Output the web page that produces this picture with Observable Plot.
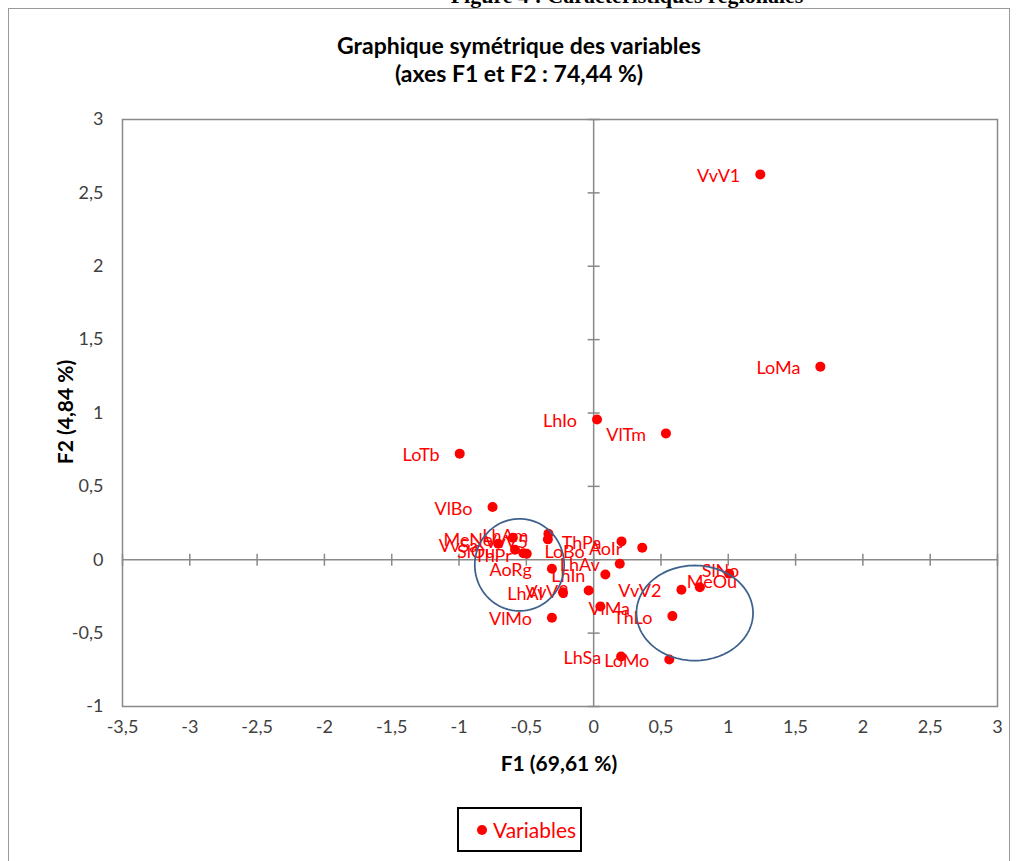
<!DOCTYPE html>
<html><head><meta charset="utf-8">
<script src="https://cdn.jsdelivr.net/npm/d3@7"></script>
<script src="https://cdn.jsdelivr.net/npm/@observablehq/plot@0.6"></script>
<style>
body{margin:0;background:#fff;}
#wrap{position:relative;width:1019px;height:861px;overflow:hidden;font-family:Lato,"Open Sans",sans-serif;background:#fff;}
#border{position:absolute;left:8px;top:8px;width:1002px;height:900px;border:1.5px solid #9a9a9a;box-sizing:border-box;}
#toptext{position:absolute;left:317px;width:620px;top:-14px;line-height:20px;text-align:center;font-family:"Liberation Serif","DejaVu Serif",serif;font-weight:bold;font-size:22px;color:#000;white-space:nowrap;}
#title{position:absolute;left:269px;width:500px;top:31px;line-height:28px;text-align:center;font-weight:bold;font-size:23px;color:#000;}
#xlab{position:absolute;left:409px;width:300px;top:749px;line-height:28px;text-align:center;font-weight:bold;font-size:21px;color:#000;}
#ylab{position:absolute;left:-85px;width:300px;top:398px;line-height:28px;text-align:center;font-weight:bold;font-size:21px;color:#000;transform:rotate(-90deg);}
#legend{position:absolute;left:457px;top:807px;width:125px;height:45px;border:2px solid #000;box-sizing:border-box;display:flex;align-items:center;padding-left:18px;}
#legend .dot{width:10px;height:10px;border-radius:50%;background:#ff0000;margin-right:6px;}
#legend .txt{color:#ff0000;font-size:21px;line-height:24px;}
svg{position:absolute;left:0;top:0;}
</style></head><body><div id="wrap">
<div id="border"></div>
<div id="toptext">Figure 4 : Caractéristiques régionales</div>
<div id="title">Graphique symétrique des variables<br>(axes F1 et F2 : 74,44 %)</div>
<div id="xlab">F1 (69,61 %)</div>
<div id="ylab">F2 (4,84 %)</div>
<div id="legend"><span class="dot"></span><span class="txt">Variables</span></div>
</div>
<script>
// ---- data ----
const names = ["VvV1","LoMa","LhIo","VlTm","LoTb","VlBo","VvSa","MeNo","SlOu","LoBo","ThPr","LhAm","VvV5","ThPa","AoIr","LhAv","LhIn","AoRg","LhAl","VvV3","VlMa","VlMo","VvV2","ThLo","MeOu","SlNo","LhSa","LoMo"];
const f1 = [1.238,1.684,0.025,0.537,-0.995,-0.751,-0.709,-0.600,-0.584,-0.522,-0.497,-0.336,-0.340,0.207,0.361,0.194,0.087,-0.310,-0.228,-0.037,0.050,-0.310,0.652,0.585,0.789,1.007,0.204,0.562];
const f2 = [2.626,1.316,0.956,0.861,0.723,0.359,0.109,0.150,0.068,0.045,0.041,0.177,0.139,0.125,0.082,-0.027,-0.100,-0.061,-0.221,-0.209,-0.318,-0.395,-0.204,-0.384,-0.187,-0.095,-0.659,-0.680];
const xTickValues = [-3.5,-3,-2.5,-2,-1.5,-1,-0.5,0,0.5,1,1.5,2,2.5,3];
const yTickValues = [-1,-0.5,0,0.5,1,1.5,2,2.5,3];
// hand-drawn annotation ellipses (centre and radii in axis units)
const ellipseCx = [-0.551, 0.751];
const ellipseCy = [-0.035, -0.363];
const ellipseRx = [0.332, 0.433];
const ellipseRy = [0.314, 0.324];

// ---- layout (label placement, pixels) ----
const defaultLabel = {anchor:"end", dx:-20, dy:2};
const labelLayout = {
  VvV5:{anchor:"end", dx:-20, dy:3},
  LoBo:{anchor:"start", dx:21, dy:-1},
  ThPr:{anchor:"end", dx:-15, dy:3},
  VlMa:{anchor:"start", dx:-12, dy:3},
  SlNo:{anchor:"end", dx:10, dy:-2},
  MeOu:{anchor:"start", dx:-13, dy:-5}
};

const pts = names.map((n,i)=>({name:n, x:f1[i], y:f2[i]}));
const fmt = d => String(d).replace(".", ",");
const gray = "#898989";
const red = "#ff0000";

const ell = [];
ellipseCx.forEach((cx,k)=>{
  for(let t=0;t<=120;t++){
    const a = t/120*2*Math.PI;
    ell.push({k, x: cx + ellipseRx[k]*Math.cos(a), y: ellipseCy[k] + ellipseRy[k]*Math.sin(a)});
  }
});

const vTick = {draw(ctx){ctx.moveTo(0,-6);ctx.lineTo(0,6);}};
const hTick = {draw(ctx){ctx.moveTo(-6,0);ctx.lineTo(6,0);}};

const groups = new Map();
for(const p of pts){
  const L = labelLayout[p.name] || defaultLabel;
  const key = L.anchor+"|"+L.dx+"|"+L.dy;
  if(!groups.has(key)) groups.set(key,{L, data:[]});
  groups.get(key).data.push(p);
}
const labelMarks = [...groups.values()].map(g => Plot.text(g.data, {x:"x", y:"y", text:"name", textAnchor:g.L.anchor, dx:g.L.dx, dy:g.L.dy, fill:red, fontSize:18}));

const chart = Plot.plot({
  width:1019, height:790,
  marginLeft:122, marginRight:22, marginTop:119, marginBottom:84,
  style:{fontFamily:"Lato, 'Open Sans', sans-serif", fontSize:"18px", color:"#404040", background:"transparent", overflow:"visible"},
  x:{domain:[-3.5,3]},
  y:{domain:[-1,3]},
  marks:[
    Plot.axisX(xTickValues, {tickSize:0, tickPadding:14, tickFormat:fmt, label:null, fontSize:18}),
    Plot.axisY(yTickValues, {tickSize:0, tickPadding:19, tickFormat:fmt, label:null, fontSize:18}),
    Plot.ruleX([0], {stroke:gray, strokeWidth:1.5}),
    Plot.ruleY([0], {stroke:gray, strokeWidth:1.5}),
    Plot.dot(xTickValues, {x:d=>d, y:()=>0, symbol:vTick, stroke:gray, fill:"none", strokeWidth:1.5}),
    Plot.dot(yTickValues, {x:()=>0, y:d=>d, symbol:hTick, stroke:gray, fill:"none", strokeWidth:1.5}),
    Plot.frame({stroke:gray, strokeWidth:1.5}),
    Plot.dot(pts, {x:"x", y:"y", r:5, fill:red}),
    ...labelMarks,
    Plot.line(ell, {x:"x", y:"y", z:"k", stroke:"#3d618c", strokeWidth:1.75, curve:"linear-closed"})
  ]
});
document.getElementById("wrap").appendChild(chart);
</script>
</body></html>
